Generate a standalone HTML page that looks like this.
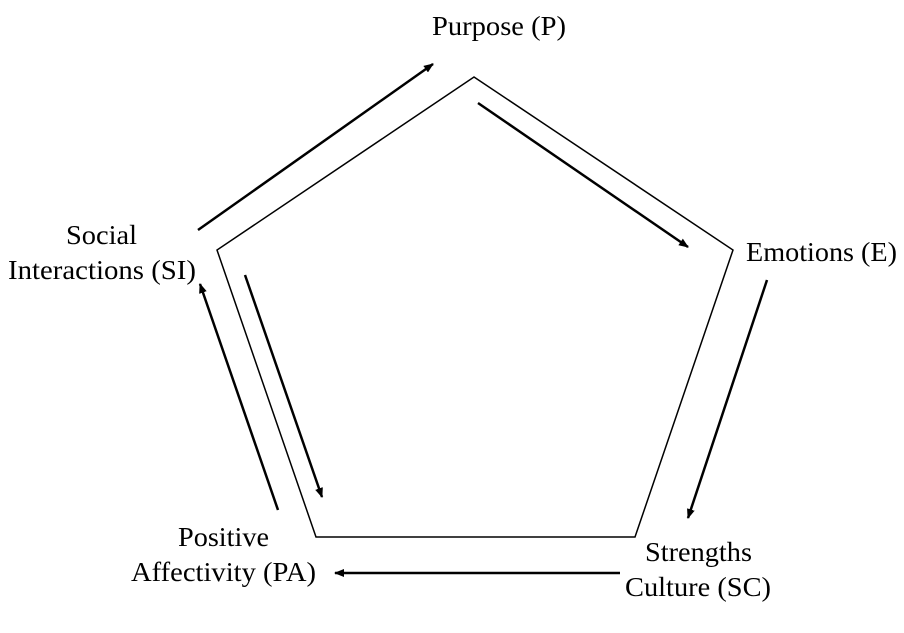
<!DOCTYPE html>
<html><head><meta charset="utf-8"><style>
html,body{margin:0;padding:0;background:#fff;}
svg{display:block;}
text{font-family:"Liberation Serif",serif;font-size:27px;fill:#000;}
</style></head><body>
<svg width="904" height="633" viewBox="0 0 904 633" xmlns="http://www.w3.org/2000/svg">
<defs>
<marker id="a" markerWidth="10" markerHeight="8" refX="9" refY="4" orient="auto" markerUnits="userSpaceOnUse">
<path d="M0,0 L10,4 L0,8 z" fill="#000"/>
</marker>
</defs>
<polygon points="474,77 733,250 635,537 316,537 217,250" fill="none" stroke="#000" stroke-width="1.5"/>
<g stroke="#000" stroke-width="2.5" fill="none" marker-end="url(#a)">
<line x1="198" y1="230" x2="433" y2="64"/>
<line x1="478" y1="103" x2="688" y2="247"/>
<line x1="767" y1="280" x2="688" y2="518"/>
<line x1="620" y1="573" x2="335" y2="573"/>
<line x1="278" y1="510" x2="200" y2="284"/>
<line x1="245" y1="275" x2="322" y2="497"/>
</g>
<text x="432" y="35" textLength="134" lengthAdjust="spacingAndGlyphs">Purpose (P)</text>
<text x="746" y="261" textLength="151" lengthAdjust="spacingAndGlyphs">Emotions (E)</text>
<text x="66" y="244" textLength="71" lengthAdjust="spacingAndGlyphs">Social</text>
<text x="8" y="279" textLength="188" lengthAdjust="spacingAndGlyphs">Interactions (SI)</text>
<text x="178" y="546" textLength="91" lengthAdjust="spacingAndGlyphs">Positive</text>
<text x="131" y="581" textLength="185" lengthAdjust="spacingAndGlyphs">Affectivity (PA)</text>
<text x="645" y="561" textLength="107" lengthAdjust="spacingAndGlyphs">Strengths</text>
<text x="625" y="596" textLength="146" lengthAdjust="spacingAndGlyphs">Culture (SC)</text>
</svg>
</body></html>
